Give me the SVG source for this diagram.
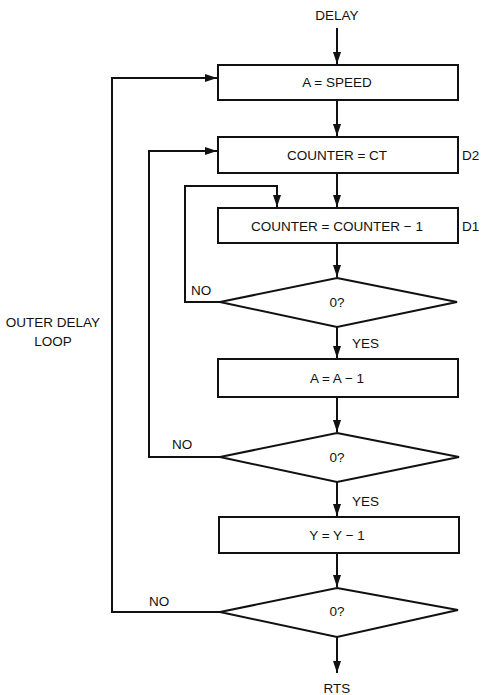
<svg xmlns="http://www.w3.org/2000/svg" width="489" height="695" viewBox="0 0 489 695">
<style>
.box{fill:#fff;stroke:#111;stroke-width:2}
.ln{fill:none;stroke:#111;stroke-width:2}
text{font-family:"Liberation Sans",Arial,sans-serif;font-size:13.5px;fill:#111}
.c{text-anchor:middle}
</style>
<defs>
<marker id="ah" viewBox="0 0 12 8" refX="12" refY="4" markerWidth="12" markerHeight="8" markerUnits="userSpaceOnUse" orient="auto">
<path d="M0,0 L12,4 L0,8 Z" fill="#111"/>
</marker>
</defs>
<rect width="489" height="695" fill="#fff"/>
<g id="connectors">
<line class="ln" x1="337" y1="28" x2="337" y2="64" marker-end="url(#ah)"/>
<line class="ln" x1="337" y1="100" x2="337" y2="136" marker-end="url(#ah)"/>
<line class="ln" x1="337" y1="173" x2="337" y2="207" marker-end="url(#ah)"/>
<line class="ln" x1="337" y1="243" x2="337" y2="277" marker-end="url(#ah)"/>
<line class="ln" x1="337" y1="327" x2="337" y2="358" marker-end="url(#ah)"/>
<line class="ln" x1="337" y1="397" x2="337" y2="432" marker-end="url(#ah)"/>
<line class="ln" x1="337" y1="482" x2="337" y2="516" marker-end="url(#ah)"/>
<line class="ln" x1="337" y1="553" x2="337" y2="587" marker-end="url(#ah)"/>
<line class="ln" x1="337" y1="637" x2="337" y2="673" marker-end="url(#ah)"/>
<polyline class="ln" points="220,302 185,302 185,186 277,186 277,207" marker-end="url(#ah)"/>
<polyline class="ln" points="220,457 149,457 149,151 217,151" marker-end="url(#ah)"/>
<polyline class="ln" points="220,612 112,612 112,78 217,78" marker-end="url(#ah)"/>
<text x="191" y="295">NO</text>
<text x="172" y="449">NO</text>
<text x="149" y="606">NO</text>
<text x="352" y="348">YES</text>
<text x="352" y="506">YES</text>
</g>
<g id="start"><text class="c" x="337" y="20">DELAY</text></g>
<g id="n1"><rect class="box" x="218" y="65" width="240" height="35"/><text class="c" x="337" y="87">A = SPEED</text></g>
<g id="n2"><rect class="box" x="218" y="137" width="240" height="36"/><text class="c" x="337" y="160">COUNTER = CT</text><text x="462" y="160">D2</text></g>
<g id="n3"><rect class="box" x="218" y="208" width="240" height="35"/><text class="c" x="337" y="231">COUNTER = COUNTER − 1</text><text x="462" y="231">D1</text></g>
<g id="d1"><polygon class="box" points="337,278 457,302 337,327 220,302"/><text class="c" x="337" y="307">0?</text></g>
<g id="n4"><rect class="box" x="218" y="359" width="240" height="38"/><text class="c" x="337" y="383">A = A − 1</text></g>
<g id="d2"><polygon class="box" points="337,433 459,457 337,482 220,457"/><text class="c" x="337" y="462">0?</text></g>
<g id="n5"><rect class="box" x="219" y="517" width="240" height="36"/><text class="c" x="337" y="540">Y = Y − 1</text></g>
<g id="d3"><polygon class="box" points="337,588 458,610 337,637 220,612"/><text class="c" x="337" y="616">0?</text></g>
<g id="end"><text class="c" x="337" y="693">RTS</text></g>
<g id="label"><text class="c" x="53" y="327">OUTER DELAY</text><text class="c" x="53" y="346">LOOP</text></g>
</svg>
